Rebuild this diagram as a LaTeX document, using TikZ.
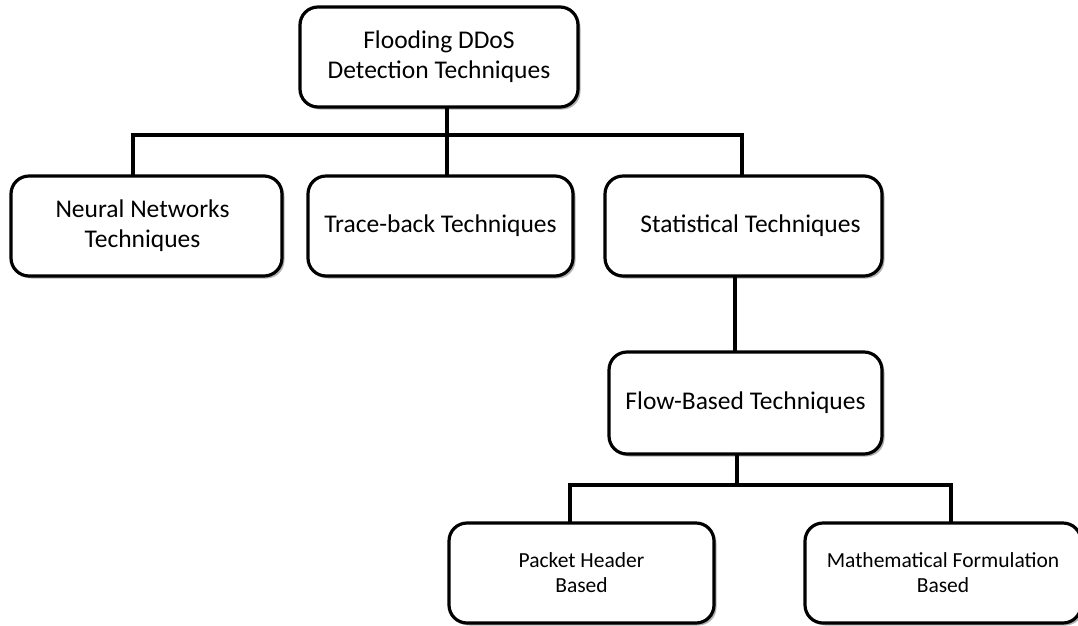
\documentclass[tikz,border=0pt]{standalone}
\usepackage{fontspec}
\setmainfont{Carlito}
\usetikzlibrary{shadows}
\begin{document}
\begin{tikzpicture}[x=1pt,y=-1pt,
  box/.style={draw=black, line width=3.2pt, rounded corners=18pt, fill=white,
    align=center, inner sep=0pt, font=\fontsize{25.5}{30}\selectfont,
    drop shadow={shadow xshift=2.5pt, shadow yshift=-2.5pt, fill=black, opacity=0.3}},
  smallbox/.style={box, font=\fontsize{21.5}{25}\selectfont},
  link/.style={line width=3.2pt, line cap=rect}]
\useasboundingbox (0,0) rectangle (1078,625);

% root and first level
\node[box, minimum width=278pt, minimum height=100pt] (root) at (439,57)
  {Flooding DDoS\\Detection Techniques};
\node[box, minimum width=271pt, minimum height=100pt] (nn) at (146.5,226)
  {Neural Networks\hspace*{8pt}\\Techniques\hspace*{8pt}};
\node[box, minimum width=265pt, minimum height=100pt] (tb) at (440.5,226)
  {Trace-back Techniques};
\node[box, minimum width=277pt, minimum height=100pt] (st) at (743.5,226)
  {\hspace*{14pt}Statistical Techniques};

% second level
\node[box, minimum width=273pt, minimum height=102pt] (fb) at (745.5,403)
  {Flow-Based Techniques};

% third level
\node[smallbox, minimum width=265pt, minimum height=100pt] (ph) at (581.5,573)
  {Packet Header\\Based};
\node[smallbox, minimum width=276pt, minimum height=100pt] (mf) at (943,573)
  {Mathematical Formulation\\Based};

% bus from the root to the first level
\coordinate (r0) at (447,135);
\coordinate (bl) at (133,135);
\coordinate (br) at (742,135);
\draw[link] (r0 |- root.south) -- (r0);
\draw[link] (bl) -- (br);
\draw[link] (bl) -- (bl |- nn.north);
\draw[link] (r0) -- (r0 |- tb.north);
\draw[link] (br) -- (br |- st.north);

% statistical -> flow-based
\coordinate (s0) at (735,300);
\draw[link] (s0 |- st.south) -- (s0 |- fb.north);

% bus from flow-based to the third level
\coordinate (f0) at (737,485);
\coordinate (fl) at (570,485);
\coordinate (fr) at (951,485);
\draw[link] (f0 |- fb.south) -- (f0);
\draw[link] (fl) -- (fr);
\draw[link] (fl) -- (fl |- ph.north);
\draw[link] (fr) -- (fr |- mf.north);
\end{tikzpicture}
\end{document}
